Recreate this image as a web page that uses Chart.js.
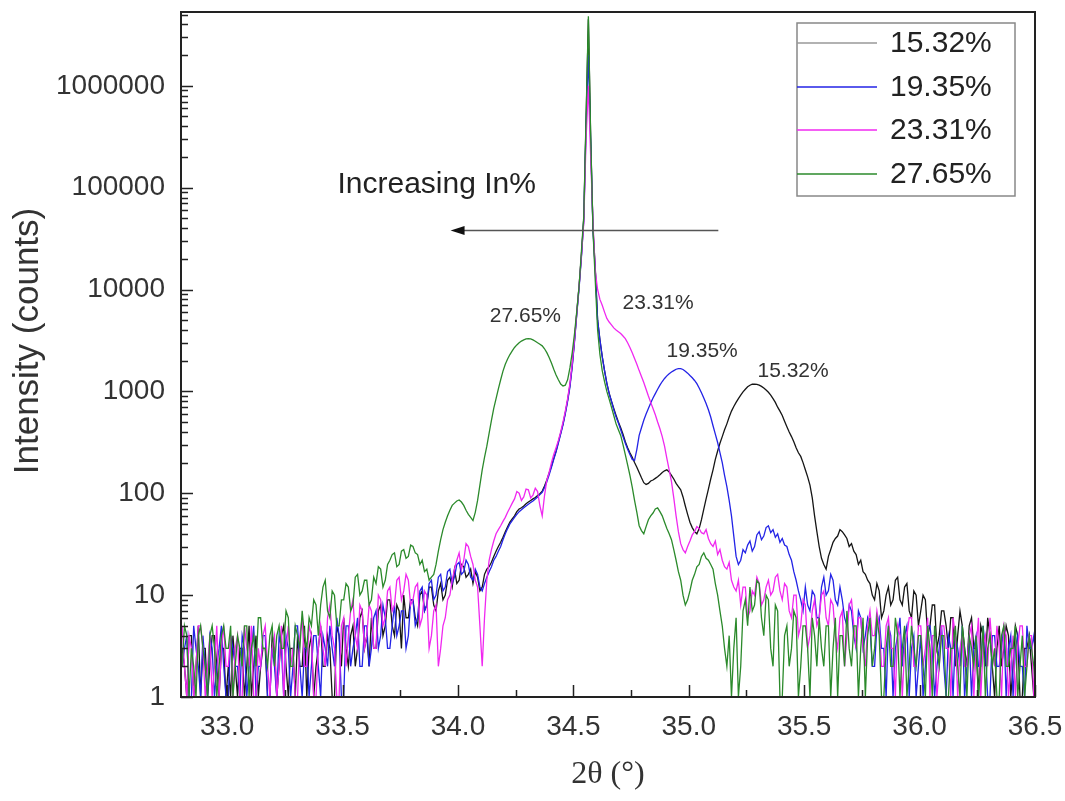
<!DOCTYPE html>
<html>
<head>
<meta charset="utf-8">
<script src="https://cdn.jsdelivr.net/npm/chart.js@4.4.1/dist/chart.umd.min.js"></script>
<style>
  body { margin: 0; background: #fff; }
  #wrap { width: 1065px; height: 801px; }
</style>
</head>
<body>
<div id="wrap"><canvas id="xrdChart" width="1065" height="801"></canvas></div>
<script>
// 2theta scan grid (degrees)
const angleStart = 32.805;
const angleStep = 0.01;

const seriesLabels = ['15.32%', '19.35%', '23.31%', '27.65%'];
const seriesColors = ['#151515', '#2323e6', '#f028f0', '#2b8a2b'];

// intensity (counts) per grid point, 20 points (0.2 deg) per row
const counts1532 = [
  3,2,1,4,4,1,2,5,1,3,3,1,2,4,4,2,1,3,3,1,
  2,1,4,2,1,3,3,1,2,5,1,2,4,1,2,3,3,1,1,4,
  3,1,2,4,5,2,1,3,3,1,4,2,2,5,1,3,4,1,2,3,
  5,2,2,4,3,1,1,5,4,2,6,3,2,4,5,2,3,6,7,3,
  4,2,6,3,3,7,8,4,5,9,9,5,4,8,7,3,10,6,6,9,
  9,6,5,10,11,7,8,12,12,8,7,11,13,9,10,14,15,12,18,13,
  14,20,19,15,16,18,13,17,15,11,12,16,18,19,21,24,27,30,33,37,
  42,47,52,56,60,66,70,72,75,79,82,85,88,91,95,99,105,118,135,158,
  185,220,260,320,390,480,620,820,1150,1800,3200,6000,11000,22000,50000,450000,4500000,300000,40000,16000,
  5000,3200,2200,1600,1200,960,800,680,580,500,440,380,320,280,250,225,200,180,160,142,
  127,122,125,132,135,140,145,152,160,166,170,162,150,138,125,116,108,92,75,62,
  52,46,42,40,45,55,70,88,110,138,170,215,260,310,360,420,480,560,640,710,
  780,850,920,990,1050,1110,1150,1175,1180,1170,1150,1120,1080,1030,980,920,850,780,700,640,
  580,510,450,400,360,320,280,250,230,200,170,145,120,90,60,42,30,23,20,18,
  24,28,33,36,38,44,42,39,36,30,32,27,25,20,22,17,16,14,13,10,
  9,13,11,6,7,10,12,8,9,14,15,9,8,12,13,7,6,11,10,5,
  7,10,9,4,5,8,8,3,4,7,7,5,3,6,6,2,4,7,5,3,
  2,5,6,3,3,1,5,4,2,6,4,2,1,3,5,2,3,5,4,1,
  2,5,4,1,1,3,3,4,2,1,3
];
const counts1935 = [
  2,3,4,1,1,5,3,2,1,4,2,1,4,3,1,2,3,5,2,1,
  1,4,3,2,2,1,4,3,1,2,3,5,1,2,2,4,4,1,1,3,
  2,1,4,3,1,4,3,1,2,5,5,2,1,3,3,1,2,4,4,2,
  1,4,3,2,5,3,2,6,4,1,1,5,5,2,3,4,6,2,2,5,
  5,2,3,6,7,3,4,8,6,3,3,5,8,4,5,7,7,3,4,9,
  9,5,6,11,12,7,8,13,14,9,10,15,16,11,12,17,18,13,15,20,
  21,16,17,22,20,15,14,18,16,12,11,13,15,17,19,22,24,27,30,35,
  40,45,50,54,58,62,66,69,72,75,78,81,84,88,92,97,102,114,130,152,
  180,215,255,310,380,470,600,800,1100,1750,3100,5800,10500,21000,48000,400000,2000000,280000,38000,15000,
  5000,3200,2200,1600,1200,950,800,660,560,490,420,360,310,270,240,215,210,270,370,440,
  520,600,680,770,860,950,1050,1150,1250,1340,1420,1490,1550,1600,1650,1670,1670,1640,1580,1510,
  1430,1360,1280,1190,1080,970,860,760,660,560,460,380,315,250,200,150,116,85,60,38,
  24,20,22,28,26,31,34,27,30,39,42,35,38,46,48,41,44,37,40,33,
  36,31,30,25,22,17,14,11,9,7,12,8,7,11,10,6,6,12,15,10,
  11,16,14,9,8,12,9,6,5,8,7,4,3,7,6,3,4,6,5,2,
  2,5,6,3,3,1,5,4,1,3,4,6,2,4,5,1,3,4,1,2,
  4,1,2,5,5,3,1,2,3,5,2,1,4,3,1,4,3,2,5,1,
  2,4,1,3,4,2,2,5,3,1,1,4,4,2,2,3,5,1,3,4,
  1,3,4,2,2,1,5,3,3,4,2
];
const counts2331 = [
  5,2,1,4,3,1,2,5,5,3,1,2,4,1,2,5,1,3,5,2,
  2,4,1,3,4,1,1,5,3,2,5,1,1,3,2,4,5,2,1,3,
  4,1,2,5,1,3,5,2,3,1,1,4,6,2,2,5,4,1,1,3,
  5,3,2,6,8,4,3,1,1,5,6,2,4,7,9,4,3,8,7,3,
  4,8,7,3,3,10,9,5,6,11,12,7,8,14,15,9,11,16,14,8,
  9,12,13,5,6,11,10,3,4,7,8,2,3,5,6,9,10,14,18,22,
  26,18,22,32,30,24,20,14,12,5,2,6,14,22,28,34,40,44,48,53,
  58,65,72,80,88,104,100,85,92,110,108,90,96,112,104,75,60,95,135,160,
  200,240,280,330,400,500,640,850,1200,1900,3300,6000,11000,22000,45000,300000,1000000,200000,45000,15000,
  10000,8000,7000,6000,5200,4800,4500,4200,4000,3850,3700,3500,3300,3000,2700,2400,2100,1850,1600,1400,
  1220,1050,900,780,680,590,500,430,360,290,220,170,130,90,60,42,32,28,26,30,
  34,39,42,47,45,41,40,44,36,32,30,34,25,28,22,19,18,21,14,12,
  11,14,8,12,12,6,7,11,10,15,13,8,9,12,14,10,11,15,16,11,
  9,13,12,7,6,10,10,4,5,9,8,3,4,7,9,5,6,10,11,6,
  5,9,8,4,3,6,7,2,4,8,9,5,3,6,6,3,2,5,7,4,
  4,7,5,2,2,5,6,3,3,1,5,4,1,3,4,6,6,2,2,5,
  5,2,3,6,1,4,4,1,2,5,5,3,3,1,6,4,1,3,4,2,
  2,4,5,1,3,6,1,3,4,2,6,3,2,5,3,1,5,4,1,2,
  4,1,3,5,5,2,2,4,4,1,3
];
const counts2765 = [
  2,5,4,1,3,2,1,4,5,3,2,1,4,5,3,1,2,4,5,3,
  3,5,1,2,4,3,2,5,5,1,3,4,2,6,6,3,3,2,4,5,
  2,4,5,3,3,7,6,2,2,5,4,3,7,4,3,6,5,9,8,4,
  8,12,14,7,6,11,10,5,5,9,9,13,12,7,8,15,16,10,11,14,
  14,8,9,15,13,19,18,12,14,20,22,25,26,19,20,27,28,23,24,31,
  30,26,25,20,22,17,18,14,15,16,20,27,35,44,52,60,68,76,80,84,
  86,82,76,68,62,58,54,65,85,120,170,225,290,390,520,680,850,1060,1300,1580,
  1850,2080,2300,2500,2700,2860,3000,3120,3200,3270,3300,3270,3200,3110,3000,2900,2800,2620,2400,2150,
  1900,1650,1450,1300,1180,1130,1150,1300,1700,2400,3700,6200,11000,24000,52000,500000,4800000,320000,38000,12000,
  4000,2300,1600,1250,1000,840,700,580,480,420,370,300,240,190,150,115,85,65,48,43,
  40,47,55,60,64,70,72,66,60,52,45,40,35,28,22,17,14,10,8,9,
  11,14,16,19,20,24,26,23,22,20,18,13,10,7,5,3,2,4,1,3,
  6,1,2,7,9,5,12,7,8,14,13,6,4,10,9,3,2,8,7,1,
  1,4,5,2,3,7,6,1,2,5,5,3,1,6,4,2,6,3,2,5,
  5,1,3,6,1,4,4,2,7,3,2,5,5,1,3,6,1,4,6,2,
  3,6,4,1,1,3,5,2,2,6,4,1,3,5,1,2,5,3,2,4,
  4,2,1,5,3,1,5,3,2,4,4,1,1,3,3,5,2,1,5,3,
  1,4,3,2,4,1,2,5,1,3,4,2,3,1,1,4,5,2,2,3,
  3,5,1,2,4,1,2,4,3,2,1
];

const xTicks = [33.0, 33.5, 34.0, 34.5, 35.0, 35.5, 36.0, 36.5];
const yTicks = [1, 10, 100, 1000, 10000, 100000, 1000000];

// peak captions and the shift arrow, in data units
const peakNotes = [
  { text: '27.65%', x: 34.292, y: 5530 },
  { text: '23.31%', x: 34.867, y: 7420 },
  { text: '19.35%', x: 35.058, y: 2505 },
  { text: '15.32%', x: 35.452, y: 1593 }
];
const shiftNote = { text: 'Increasing In%', x: 33.478, y: 89300 };
const shiftArrow = { from: 35.128, to: 33.968, y: 38650 };

const toPoints = values => values.map((v, i) => ({ x: angleStart + i * angleStep, y: v }));
const allCounts = [counts1532, counts1935, counts2331, counts2765];

const datasets = allCounts.map((vals, i) => ({
  label: seriesLabels[i],
  data: toPoints(vals),
  borderColor: seriesColors[i],
  borderWidth: 1.3,
  pointRadius: 0,
  tension: 0,
  order: 4 - i // green drawn last (on top)
}));

const sans = "'Liberation Sans', Arial, sans-serif";

// keep edge labels from pushing the plot area around
const noEdgePadding = s => {
  s.paddingTop = 0; s.paddingBottom = 0; s.paddingLeft = 0; s.paddingRight = 0;
};

const framePlugin = {
  id: 'frame',
  afterDatasetsDraw(chart) {
    const { ctx, chartArea: a, scales } = chart;
    const xs = scales.x, ys = scales.y;
    ctx.save();

    // inward tick marks
    ctx.strokeStyle = '#222';
    ctx.lineWidth = 1.5;
    ctx.beginPath();
    for (let v = 33.0; v <= 36.5001; v += 0.25) {
      const px = Math.round(xs.getPixelForValue(v)) + 0.5;
      const major = Math.abs(v * 2 - Math.round(v * 2)) < 1e-6;
      ctx.moveTo(px, a.bottom);
      ctx.lineTo(px, a.bottom - (major ? 12 : 7));
    }
    for (let d = 1; d <= 1e6; d *= 10) {
      for (let m = 1; m <= 9; m++) {
        const v = d * m;
        if (v > ys.max) break;
        const py = Math.round(ys.getPixelForValue(v)) + 0.5;
        ctx.moveTo(a.left, py);
        ctx.lineTo(a.left + (m === 1 ? 12 : 7), py);
      }
    }
    ctx.stroke();

    // frame
    ctx.lineWidth = 2;
    ctx.strokeStyle = '#222';
    ctx.strokeRect(a.left, a.top, a.right - a.left, a.bottom - a.top);

    // peak captions
    ctx.fillStyle = '#333';
    ctx.font = '21px ' + sans;
    ctx.textAlign = 'center';
    ctx.textBaseline = 'middle';
    peakNotes.forEach(n => ctx.fillText(n.text, xs.getPixelForValue(n.x), ys.getPixelForValue(n.y)));

    // shift caption + arrow
    ctx.font = '30px ' + sans;
    ctx.textAlign = 'left';
    ctx.textBaseline = 'alphabetic';
    ctx.fillStyle = '#222';
    ctx.fillText(shiftNote.text, xs.getPixelForValue(shiftNote.x), ys.getPixelForValue(shiftNote.y));
    const ay = Math.round(ys.getPixelForValue(shiftArrow.y)) + 0.5;
    const ax0 = xs.getPixelForValue(shiftArrow.from);
    const ax1 = xs.getPixelForValue(shiftArrow.to);
    ctx.strokeStyle = '#555';
    ctx.lineWidth = 1.5;
    ctx.beginPath();
    ctx.moveTo(ax0, ay);
    ctx.lineTo(ax1 + 10, ay);
    ctx.stroke();
    ctx.fillStyle = '#111';
    ctx.beginPath();
    ctx.moveTo(ax1, ay);
    ctx.lineTo(ax1 + 14, ay - 4.5);
    ctx.lineTo(ax1 + 14, ay + 4.5);
    ctx.closePath();
    ctx.fill();

    // legend box
    const bx = a.right - 238, by = a.top + 11, bw = 218, bh = 173;
    ctx.fillStyle = '#fff';
    ctx.fillRect(bx, by, bw, bh);
    ctx.strokeStyle = '#888';
    ctx.lineWidth = 1.5;
    ctx.strokeRect(bx, by, bw, bh);
    ctx.font = '30px ' + sans;
    ctx.textBaseline = 'middle';
    ctx.textAlign = 'left';
    seriesLabels.forEach((lab, i) => {
      const ly = Math.round(by + 20 + i * 43.7);
      ctx.strokeStyle = i === 0 ? '#999' : seriesColors[i];
      ctx.lineWidth = 1.5;
      ctx.beginPath();
      ctx.moveTo(bx, ly);
      ctx.lineTo(bx + 80, ly);
      ctx.stroke();
      ctx.fillStyle = '#222';
      ctx.fillText(lab, bx + 93, ly + 1);
    });

    // axis titles
    ctx.fillStyle = '#333';
    ctx.font = "32px 'Liberation Serif', 'Times New Roman', serif";
    ctx.textAlign = 'center';
    ctx.textBaseline = 'middle';
    ctx.fillText('2\u03B8 (\u00B0)', (a.left + a.right) / 2, 775);
    ctx.save();
    ctx.translate(28, 341);
    ctx.rotate(-Math.PI / 2);
    ctx.font = '35px ' + sans;
    ctx.fillText('Intensity (counts)', 0, 0);
    ctx.restore();

    ctx.restore();
  }
};

new Chart(document.getElementById('xrdChart'), {
  type: 'line',
  data: { datasets: datasets },
  options: {
    responsive: false,
    animation: false,
    events: [],
    layout: { padding: { top: 12, right: 30, left: 0, bottom: 0 } },
    plugins: { legend: { display: false }, tooltip: { enabled: false } },
    scales: {
      x: {
        type: 'linear',
        min: 32.8,
        max: 36.5,
        grid: { display: false, drawTicks: false },
        border: { display: false },
        afterBuildTicks: s => { s.ticks = xTicks.map(v => ({ value: v })); },
        afterFit: s => { s.height = 104; noEdgePadding(s); },
        ticks: {
          autoSkip: false,
          maxRotation: 0,
          padding: 13,
          color: '#333',
          font: { family: sans, size: 28 },
          callback: v => v.toFixed(1)
        }
      },
      y: {
        type: 'logarithmic',
        min: 1,
        max: 5.3e6,
        grid: { display: false, drawTicks: false },
        border: { display: false },
        afterBuildTicks: s => { s.ticks = yTicks.map(v => ({ value: v })); },
        afterFit: s => { s.width = 181; noEdgePadding(s); },
        ticks: {
          autoSkip: false,
          padding: 16,
          color: '#333',
          font: { family: sans, size: 28 },
          callback: v => String(v)
        }
      }
    }
  },
  plugins: [framePlugin]
});
</script>
</body>
</html>
